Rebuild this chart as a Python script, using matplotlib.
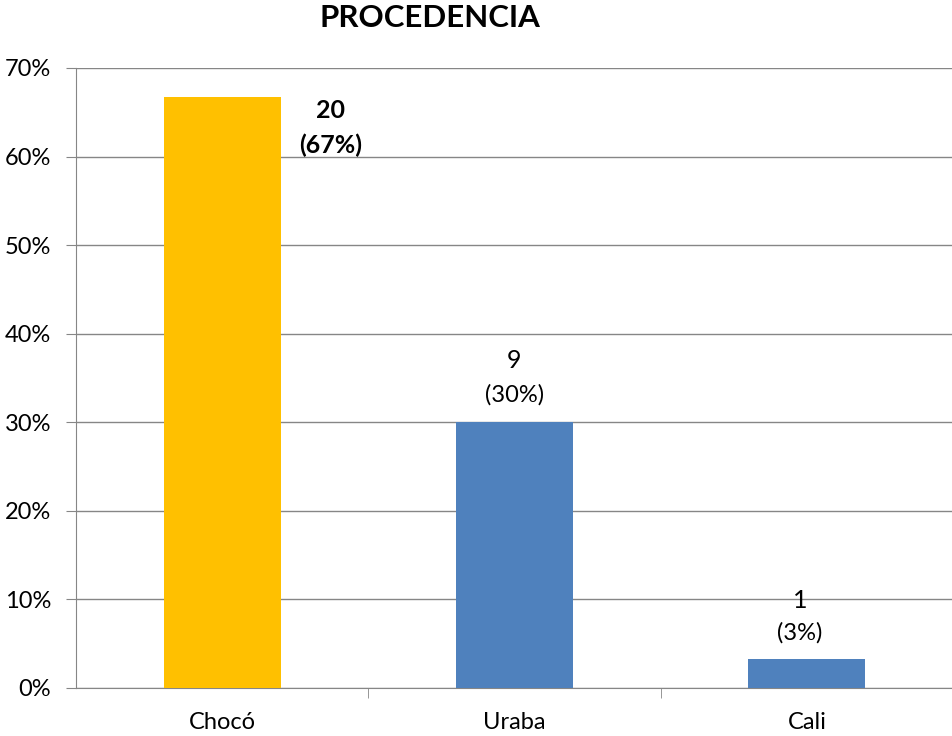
import matplotlib
matplotlib.use("Agg")
import matplotlib.pyplot as plt
from matplotlib.ticker import PercentFormatter

plt.rcParams["font.family"] = ["Lato", "DejaVu Sans"]

# Data
categories = ["Chocó", "Uraba", "Cali"]
counts = [20, 9, 1]
shares = [66.67, 30.0, 3.33]
pct_labels = ["67%", "30%", "3%"]
bar_colors = ["#FFC000", "#4F81BD", "#4F81BD"]

GRID = "#868686"

fig = plt.figure(figsize=(9.53, 7.36), dpi=100)
ax = fig.add_axes([76 / 953, 48 / 736, 1 - 76 / 953, 620 / 736])

x = range(len(categories))
ax.bar(x, shares, width=0.4, color=bar_colors, zorder=3)

ax.set_xlim(-0.5, 2.5)
ax.set_ylim(0, 70)
ax.set_yticks(range(0, 71, 10))
ax.yaxis.set_major_formatter(PercentFormatter(decimals=0))
ax.set_xticks(list(x))
ax.set_xticklabels(categories)
ax.set_xticks([0.5, 1.5, 2.5], minor=True)

ax.grid(axis="y", color=GRID, linewidth=1.0, zorder=0)
for side in ("top", "right"):
    ax.spines[side].set_visible(False)
for side in ("left", "bottom"):
    ax.spines[side].set_color(GRID)
ax.tick_params(axis="y", length=7, color=GRID, labelsize=17, pad=11)
ax.tick_params(axis="x", which="major", length=0, labelsize=17, pad=17)
ax.tick_params(axis="x", which="minor", length=7, color=GRID)

# Value labels: first bar sits beside the bar, others above (offsets in pixels)
for i, (n, v, p) in enumerate(zip(counts, shares, pct_labels)):
    if i == 0:
        dx, dy_n, dy_p, weight = 108, -13, -48, "bold"
    elif i == 1:
        dx, dy_n, dy_p, weight = 0, 62, 27, "normal"
    else:
        dx, dy_n, dy_p, weight = -7, 58, 26, "normal"
    ax.annotate(f"{n}", xy=(i, v), xytext=(dx, dy_n),
                textcoords="offset pixels", ha="center", va="center",
                fontsize=18, fontweight=weight)
    ax.annotate(f"({p})", xy=(i, v), xytext=(dx, dy_p),
                textcoords="offset pixels", ha="center", va="center",
                fontsize=17 if weight == "normal" else 18, fontweight=weight)

fig.text(430 / 953, 1 - 18 / 736, "PROCEDENCIA", ha="center", va="center",
         fontsize=22.5, fontweight="bold")

fig.savefig("out.png", dpi=100)
